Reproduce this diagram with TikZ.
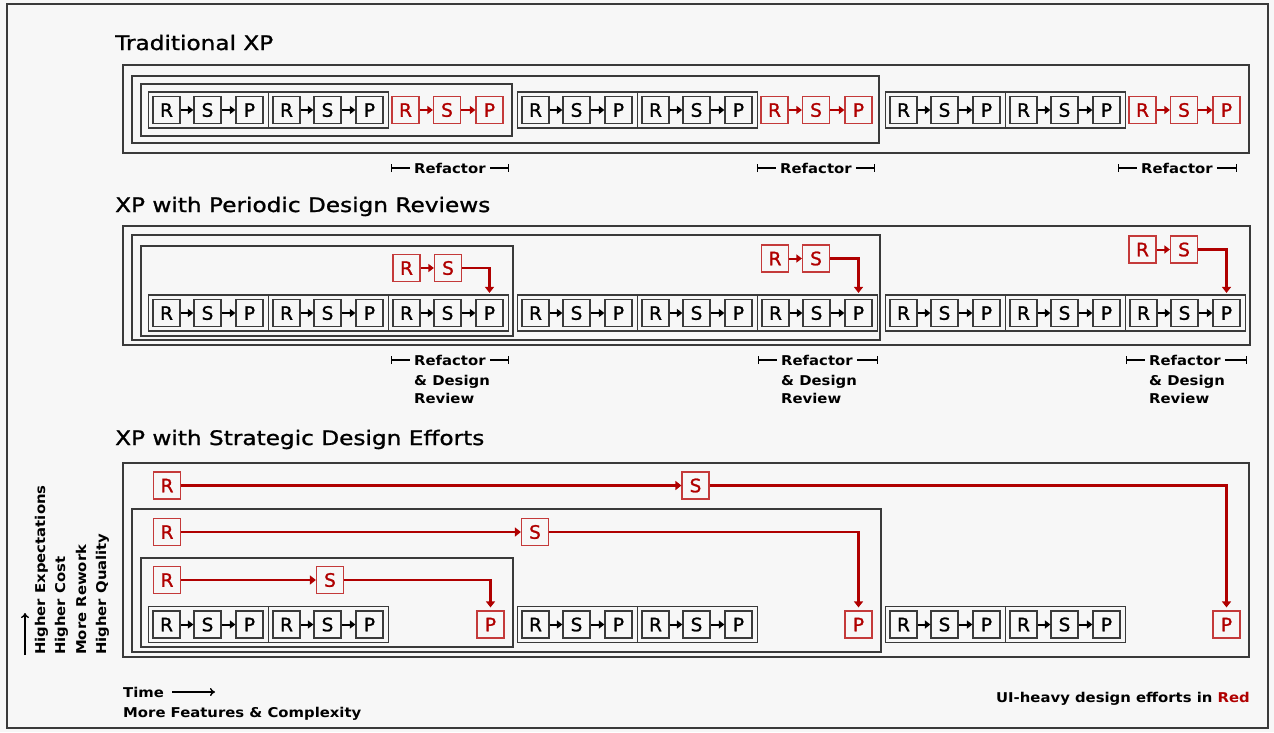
\documentclass[tikz,border=0pt]{standalone}
\usepackage{fontspec}
\setmainfont{DejaVu Sans}
\newfontfamily\titlefont[FakeStretch=1.16,FakeBold=1.2]{DejaVu Sans}
\newfontfamily\letterfont[FakeBold=1.2]{DejaVu Sans}
\newfontfamily\labfont[FakeStretch=1.1]{DejaVu Sans}
\usetikzlibrary{arrows.meta}
\definecolor{bg}{HTML}{F7F7F7}
\definecolor{xpred}{HTML}{B00000}
\definecolor{boxred}{HTML}{C43A3A}
\definecolor{linegray}{HTML}{3A3A3A}
\tikzset{
  bbox/.style={draw=linegray, line width=1.2pt, minimum size=27pt, inner sep=0pt,
    font=\letterfont\fontsize{18.5}{18.5}\selectfont, text=black},
  rbox/.style={bbox, draw=boxred, text=xpred},
  grpbox/.style={draw=linegray, line width=1.2pt, minimum height=36pt, minimum width=120pt, inner sep=0pt},
  frame/.style={draw=linegray, line width=1.4pt},
  pageframe/.style={draw=linegray, line width=1.2pt},
  blkarr/.style={draw=black, line width=2pt, -{Triangle[length=5.5pt,width=8pt]}},
  smallred/.style={draw=xpred, line width=2pt, -{Triangle[length=5.5pt,width=8pt]}},
  redarr/.style={draw=xpred, line width=2.3pt, -{Triangle[length=6pt,width=9pt]}},
  title/.style={anchor=base west, inner sep=0pt, font=\titlefont\fontsize{20}{24}\selectfont},
  lab/.style={inner xsep=4pt, inner ysep=0pt, font=\labfont\bfseries\fontsize{13.5}{16}\selectfont},
  labtext/.style={inner sep=0pt, font=\labfont\bfseries\fontsize{13.5}{16}\selectfont},
  brk/.style={draw=black, line width=1.2pt},
  axarr/.style={draw=black, line width=1.4pt, -{To[length=5pt,width=8pt]}},
}
% one R->S->P group: name, left x, centre y
\newcommand\xpgrp[3]{%
  \node[grpbox, anchor=west] (#1) at (#2,#3) {};
  \node[bbox] (#1R) at (#2+18.5,#3) {R};
  \node[bbox] (#1S) at (#2+59.5,#3) {S};
  \node[bbox] (#1P) at (#2+101.5,#3) {P};
  \draw[blkarr] (#1R) -- (#1S);
  \draw[blkarr] (#1S) -- (#1P);
}
% red R->S->P: name, iteration start x, centre y
\newcommand\xpredrsp[3]{%
  \node[rbox] (#1R) at (#2+257.5,#3) {R};
  \node[rbox] (#1S) at (#2+299,#3) {S};
  \node[rbox] (#1P) at (#2+341.5,#3) {P};
  \draw[smallred] (#1R) -- (#1S);
  \draw[smallred] (#1S) -- (#1P);
}
% bracket label: name, left x, right x, centre y
\newcommand\xpbracket[4]{%
  \coordinate (#1l) at (#2,#4);
  \coordinate (#1r) at (#3,#4);
  \node[lab, anchor=west] (#1) at (#2+19,#4) {Refactor};
  \draw[brk, {Bar[width=8pt]}-] (#1l) -- (#1l -| #1.west);
  \draw[brk, -{Bar[width=8pt]}] (#1.east |- #1r) -- (#1r);
}
\begin{document}
\begin{tikzpicture}[x=1pt,y=-1pt]
\fill[bg] (0,0) rectangle (1274,732);
\useasboundingbox (0,0) rectangle (1274,732);
\draw[pageframe] (7,4) rectangle (1268,728);

% ---------------- Traditional XP ----------------
\node[title] (t1) at (115,50) {Traditional XP};
\draw[frame] (123,65) rectangle (1249,153);
\draw[frame] (132,76) rectangle (879,143);
\draw[frame] (141,84) rectangle (512,136);
\xpgrp{a1}{148}{110}
\xpgrp{a2}{268}{110}
\xpredrsp{ar1}{148}{110}
\xpgrp{a3}{517}{110}
\xpgrp{a4}{637}{110}
\xpredrsp{ar2}{517}{110}
\xpgrp{a5}{885}{110}
\xpgrp{a6}{1005}{110}
\xpredrsp{ar3}{885}{110}
\xpbracket{rfa}{391}{509}{168}
\xpbracket{rfb}{757}{875}{168}
\xpbracket{rfc}{1118}{1237}{168}

% ---------------- Periodic design reviews ----------------
\node[title] (t2) at (115,212) {XP with Periodic Design Reviews};
\draw[frame] (123,226) rectangle (1250,345);
\draw[frame] (132,235) rectangle (880,340);
\draw[frame] (141,246) rectangle (513,336);
\xpgrp{b1}{148}{313}
\xpgrp{b2}{268}{313}
\xpgrp{b3}{388}{313}
\xpgrp{b4}{517}{313}
\xpgrp{b5}{637}{313}
\xpgrp{b6}{757}{313}
\xpgrp{b7}{885}{313}
\xpgrp{b8}{1005}{313}
\xpgrp{b9}{1125}{313}
% red design review R -> S -> P
\node[rbox] (br1R) at (406.5,268) {R};
\node[rbox] (br1S) at (448,268) {S};
\draw[smallred] (br1R) -- (br1S);
\draw[redarr, shorten >=6pt] (br1S.east) -| (b3P.north);
\node[rbox] (br2R) at (775,258.5) {R};
\node[rbox] (br2S) at (816,258.5) {S};
\draw[smallred] (br2R) -- (br2S);
\draw[redarr, shorten >=6pt] (br2S.east) -| (b6P.north);
\node[rbox] (br3R) at (1142.5,249.5) {R};
\node[rbox] (br3S) at (1184,249.5) {S};
\draw[smallred] (br3R) -- (br3S);
\draw[redarr, shorten >=6pt] (br3S.east) -| (b9P.north);
% labels
\xpbracket{rva}{391}{509}{360}
\node[labtext, anchor=base west] (rva2) at (414,385) {\& Design};
\node[labtext, anchor=base west] (rva3) at (414,403) {Review};
\xpbracket{rvb}{758}{878}{360}
\node[labtext, anchor=base west] (rvb2) at (781,385) {\& Design};
\node[labtext, anchor=base west] (rvb3) at (781,403) {Review};
\xpbracket{rvc}{1126}{1247}{360}
\node[labtext, anchor=base west] (rvc2) at (1149,385) {\& Design};
\node[labtext, anchor=base west] (rvc3) at (1149,403) {Review};

% ---------------- Strategic design efforts ----------------
\node[title] (t3) at (115,445) {XP with Strategic Design Efforts};
\draw[frame] (123,463) rectangle (1249,657);
\draw[frame] (132,509) rectangle (881,652);
\draw[frame] (141,558) rectangle (513,647);
\xpgrp{c1}{148}{624.5}
\xpgrp{c2}{268}{624.5}
\xpgrp{c3}{517}{624.5}
\xpgrp{c4}{637}{624.5}
\xpgrp{c5}{885}{624.5}
\xpgrp{c6}{1005}{624.5}
\node[rbox] (cP1) at (490.5,624.5) {P};
\node[rbox] (cP2) at (858.5,624.5) {P};
\node[rbox] (cP3) at (1226.5,624.5) {P};
% row 1 (outermost)
\node[rbox] (cR1) at (167,485.5) {R};
\node[rbox] (cS1) at (695.5,485.5) {S};
\draw[redarr] (cR1) -- (cS1);
\draw[redarr, shorten >=3pt] (cS1.east) -| (cP3.north);
% row 2
\node[rbox] (cR2) at (167,532) {R};
\node[rbox] (cS2) at (535,532) {S};
\draw[redarr] (cR2) -- (cS2);
\draw[redarr, shorten >=3pt] (cS2.east) -| (cP2.north);
% row 3
\node[rbox] (cR3) at (167,580) {R};
\node[rbox] (cS3) at (330,580) {S};
\draw[redarr] (cR3) -- (cS3);
\draw[redarr, shorten >=3pt] (cS3.east) -| (cP1.north);

% ---------------- axes and legend ----------------
\coordinate (ya) at (25,655);
\coordinate (yb) at (25,613);
\draw[axarr] (ya) -- (yb);
\node[labtext, rotate=90, anchor=base west] (v1) at (45,655) {Higher Expectations};
\node[labtext, rotate=90, anchor=base west] (v2) at (65,655) {Higher Cost};
\node[labtext, rotate=90, anchor=base west] (v3) at (86,655) {More Rework};
\node[labtext, rotate=90, anchor=base west] (v4) at (106,655) {Higher Quality};

\node[labtext, anchor=base west] (time) at (123,697) {Time};
\coordinate (xa) at (172,692);
\coordinate (xb) at (215,692);
\draw[axarr] (xa) -- (xb);
\node[labtext, anchor=base west] (feat) at (123,717) {More Features \& Complexity};
\node[labtext, anchor=base east] (legend) at (1250,702) {UI-heavy design efforts in \textcolor{xpred}{Red}};
\end{tikzpicture}
\end{document}
